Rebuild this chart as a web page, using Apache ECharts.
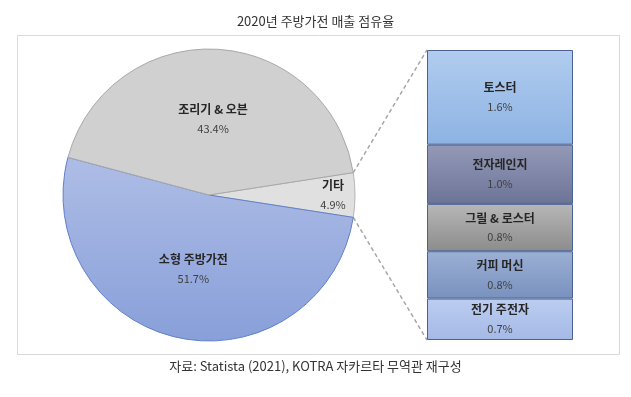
<!DOCTYPE html>
<html><head><meta charset="utf-8">
<script src="https://cdn.jsdelivr.net/npm/echarts@6/dist/echarts.min.js"></script>
<style>html,body{margin:0;padding:0;background:#fff}#c{width:631px;height:397px}</style>
</head><body><div id="c"></div>
<script>
const titleText = '2020년 주방가전 매출 점유율';
const sourceText = '자료: Statista (2021), KOTRA 자카르타 무역관 재구성';
const pieNames = ['기타', '소형 주방가전', '조리기 & 오븐'];
const pieValues = [4.9, 51.7, 43.4];
const otherNames = ['토스터', '전자레인지', '그릴 & 로스터', '커피 머신', '전기 주전자'];
const otherValues = [1.6, 1.0, 0.8, 0.8, 0.7];

const FONT = '"Noto Sans CJK KR", "Noto Sans", sans-serif';
const CX = 209, CY = 195, R = 146;
const grad = (a, b) => new echarts.graphic.LinearGradient(0, 0, 0, 1, [{offset: 0, color: a}, {offset: 1, color: b}]);

const pieStyles = [
  {color: '#e0e0e0', borderColor: '#b5b5b5'},
  {color: grad('#aebde6', '#889fd9'), borderColor: '#5f7fc9'},
  {color: '#d0d0d0', borderColor: '#a8a8a8'}
];
const boxStyles = [
  grad('#b1ccef', '#8db3e3'),
  grad('#9499b7', '#6c7497'),
  grad('#b7b7b7', '#8c8c8c'),
  grad('#9cb0d5', '#7891be'),
  grad('#bccdf0', '#a4b9e6')
];
const startAngle = pieValues[0] / 100 * 360 / 2;

const rich = {
  n: {fontFamily: FONT, fontSize: 12, fontWeight: 'bold', color: '#262626', lineHeight: 19},
  v: {fontFamily: FONT, fontSize: 11, color: '#404040', lineHeight: 19}
};

const chart = echarts.init(document.getElementById('c'));
const option = {
  animation: false,
  title: [
    {text: titleText, left: 'center', top: 10, textStyle: {fontFamily: FONT, fontSize: 13, fontWeight: 'normal', color: '#333'}},
    {text: sourceText, left: 'center', top: 355, textStyle: {fontFamily: FONT, fontSize: 13, fontWeight: 'normal', color: '#333'}}
  ],
  grid: {left: 427, top: 50, width: 146, height: 290},
  xAxis: {type: 'category', data: ['기타'], show: false},
  yAxis: {type: 'value', min: 0, max: pieValues[0], inverse: true, show: false},
  series: [
    {
      type: 'pie', center: [CX, CY], radius: [0, R], startAngle: startAngle, clockwise: true,
      silent: true,
      data: pieNames.map((n, i) => ({
        name: n, value: pieValues[i],
        itemStyle: Object.assign({borderWidth: 1}, pieStyles[i]),
        label: {show: i !== 0}
      })),
      label: {position: 'inside', formatter: p => '{n|' + p.name + '}\n{v|' + p.value.toFixed(1) + '%}', rich: rich},
      labelLine: {show: false}
    },
    {
      type: 'pie', center: [CX, CY], radius: [R - 50, R], startAngle: startAngle, clockwise: true,
      silent: true, z: 3,
      data: pieNames.map((n, i) => ({
        name: n, value: pieValues[i],
        itemStyle: {color: 'rgba(0,0,0,0)', borderWidth: 0},
        label: {show: i === 0}
      })),
      label: {position: 'inside', formatter: p => '{n|' + p.name + '}\n{v|' + p.value.toFixed(1) + '%}', rich: rich},
      labelLine: {show: false}
    }
  ].concat(otherNames.map((n, i) => ({
    type: 'bar', name: n, stack: 'o', barWidth: '100%', silent: true,
    data: [otherValues[i]],
    itemStyle: {color: boxStyles[i], borderColor: '#4b6393', borderWidth: 1},
    label: {show: true, position: 'inside', formatter: p => '{n|' + p.seriesName + '}\n{v|' + p.value.toFixed(1) + '%}', rich: rich}
  })))
};
chart.setOption(option);

// connector lines and frame
const half = startAngle * Math.PI / 180;
const px1 = CX + R * Math.cos(half), py1 = CY - R * Math.sin(half);
const px2 = CX + R * Math.cos(half), py2 = CY + R * Math.sin(half);
const topLeft = chart.convertToPixel({gridIndex: 0}, [0, 0]);
const botLeft = chart.convertToPixel({gridIndex: 0}, [0, pieValues[0]]);
const boxLeft = 427;
chart.setOption({
  graphic: [
    {type: 'rect', shape: {x: 17.5, y: 35.5, width: 602, height: 319}, style: {fill: 'none', stroke: '#d9d9d9', lineWidth: 1}, z: -10, silent: true},
    {type: 'line', shape: {x1: px1, y1: py1, x2: boxLeft, y2: topLeft[1]}, style: {stroke: '#a6a6a6', lineWidth: 1.5, lineDash: [4, 3]}, silent: true},
    {type: 'line', shape: {x1: px2, y1: py2, x2: boxLeft, y2: botLeft[1]}, style: {stroke: '#a6a6a6', lineWidth: 1.5, lineDash: [4, 3]}, silent: true}
  ]
});
</script>
</body></html>
